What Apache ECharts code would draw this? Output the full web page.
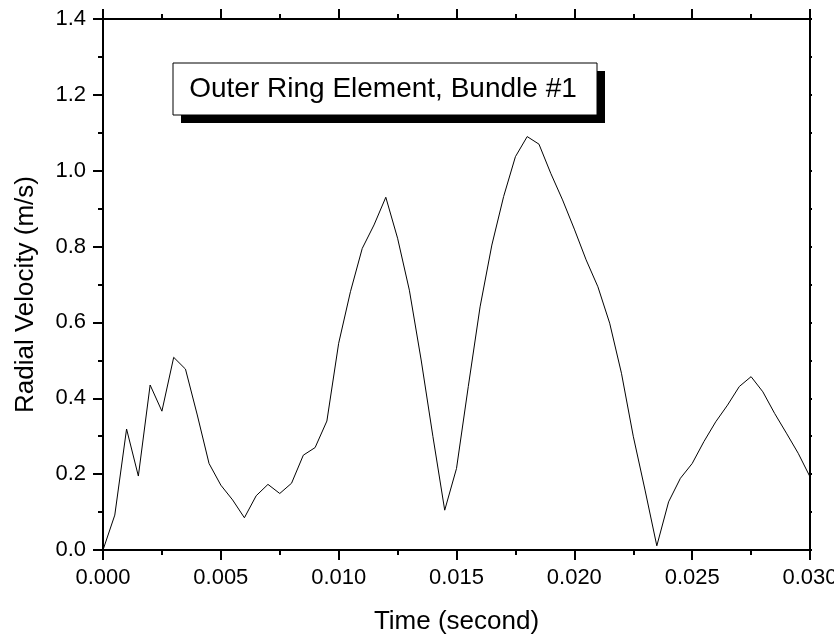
<!DOCTYPE html>
<html>
<head>
<meta charset="utf-8">
<script src="https://cdn.jsdelivr.net/npm/echarts@6/dist/echarts.min.js"></script>
<style>
html,body{margin:0;padding:0;background:#fff;}
#chart{width:834px;height:640px;}
</style>
</head>
<body>
<div id="chart"></div>
<script>
// Data
const times = [
  0.0000, 0.0005, 0.0010, 0.0015, 0.0020, 0.0025, 0.0030, 0.0035, 0.0040, 0.0045,
  0.0050, 0.0055, 0.0060, 0.0065, 0.0070, 0.0075, 0.0080, 0.0085, 0.0090, 0.0095,
  0.0100, 0.0105, 0.0110, 0.0115, 0.0120, 0.0125, 0.0130, 0.0135, 0.0140, 0.0145,
  0.0150, 0.0155, 0.0160, 0.0165, 0.0170, 0.0175, 0.0180, 0.0185, 0.0190, 0.0195,
  0.0200, 0.0205, 0.0210, 0.0215, 0.0220, 0.0225, 0.0230, 0.0235, 0.0240, 0.0245,
  0.0250, 0.0255, 0.0260, 0.0265, 0.0270, 0.0275, 0.0280, 0.0285, 0.0290, 0.0295,
  0.0300
];
const radialVelocity = [
  0.000, 0.092, 0.319, 0.195, 0.435, 0.366, 0.508, 0.477, 0.356, 0.228,
  0.171, 0.132, 0.085, 0.143, 0.173, 0.149, 0.176, 0.250, 0.270, 0.340,
  0.545, 0.681, 0.795, 0.857, 0.930, 0.822, 0.685, 0.501, 0.299, 0.105,
  0.215, 0.431, 0.641, 0.804, 0.932, 1.037, 1.090, 1.070, 0.993, 0.923,
  0.846, 0.765, 0.694, 0.598, 0.466, 0.300, 0.158, 0.011, 0.127, 0.189,
  0.228, 0.286, 0.338, 0.382, 0.431, 0.457, 0.417, 0.360, 0.308, 0.255,
  0.193
];
const titleText = 'Outer Ring Element, Bundle #1';
const xAxisName = 'Time (second)';
const yAxisName = 'Radial Velocity (m/s)';

const FONT = "'Liberation Sans', Arial, Helvetica, sans-serif";
const chart = echarts.init(document.getElementById('chart'), null, {renderer: 'canvas'});

const axisLine = {show: true, onZero: false, lineStyle: {color: '#000', width: 2}};

const option = {
  backgroundColor: '#fff',
  animation: false,
  grid: {left: 103, right: 24, top: 19, bottom: 90, containLabel: false, outerBoundsMode: 'none'},
  xAxis: [
    {
      type: 'value', position: 'bottom', min: 0, max: 0.03, interval: 0.005,
      name: xAxisName, nameLocation: 'middle', nameGap: 59,
      nameTextStyle: {fontFamily: FONT, fontSize: 26, color: '#000'},
      axisLine: axisLine,
      axisTick: {show: true, inside: false, length: 10, lineStyle: {color: '#000', width: 2}},
      minorTick: {show: true, splitNumber: 2, length: 5, lineStyle: {color: '#000', width: 2}},
      axisLabel: {show: true, margin: 17, fontFamily: FONT, fontSize: 22, color: '#000',
        formatter: v => v.toFixed(3), showMaxLabel: true, showMinLabel: true, hideOverlap: false},
      splitLine: {show: false}
    },
    {
      type: 'value', position: 'top', min: 0, max: 0.03, interval: 0.005,
      axisLine: axisLine,
      axisTick: {show: true, inside: false, length: 10, lineStyle: {color: '#000', width: 2}},
      minorTick: {show: true, splitNumber: 2, length: 5, lineStyle: {color: '#000', width: 2}},
      axisLabel: {show: false},
      splitLine: {show: false}
    }
  ],
  yAxis: [
    {
      type: 'value', position: 'left', min: 0, max: 1.4, interval: 0.2,
      name: yAxisName, nameLocation: 'middle', nameGap: 64, nameRotate: 90,
      nameTextStyle: {fontFamily: FONT, fontSize: 26, color: '#000', padding: [0, 20, 0, 0]},
      axisLine: axisLine,
      axisTick: {show: true, inside: false, length: 10, lineStyle: {color: '#000', width: 2}},
      minorTick: {show: true, splitNumber: 2, length: 5, lineStyle: {color: '#000', width: 2}},
      axisLabel: {show: true, margin: 17, fontFamily: FONT, fontSize: 22, color: '#000',
        formatter: v => v.toFixed(1)},
      splitLine: {show: false}
    },
    {
      type: 'value', position: 'right', min: 0, max: 1.4, interval: 0.1,
      axisLine: axisLine,
      axisTick: {show: true, inside: false, length: 2, lineStyle: {color: '#000', width: 2}},
      axisLabel: {show: false},
      splitLine: {show: false}
    }
  ],
  series: [
    {
      type: 'line',
      xAxisIndex: 0, yAxisIndex: 0,
      data: times.map((t, i) => [t, radialVelocity[i]]),
      showSymbol: false, symbol: 'none', smooth: false,
      lineStyle: {color: '#000', width: 1},
      clip: true
    }
  ],
  graphic: [
    {type: 'rect', shape: {x: 181, y: 71, width: 424, height: 52}, style: {fill: '#000'}, z: 10},
    {type: 'rect', shape: {x: 173, y: 63, width: 424, height: 52}, style: {fill: '#fff', stroke: '#000', lineWidth: 1}, z: 11},
    {type: 'text', x: 383, y: 89, z: 12,
      style: {text: titleText, fontFamily: FONT, fontSize: 28, fill: '#000', align: 'center', verticalAlign: 'middle'}}
  ]
};
chart.setOption(option);
</script>
</body>
</html>
